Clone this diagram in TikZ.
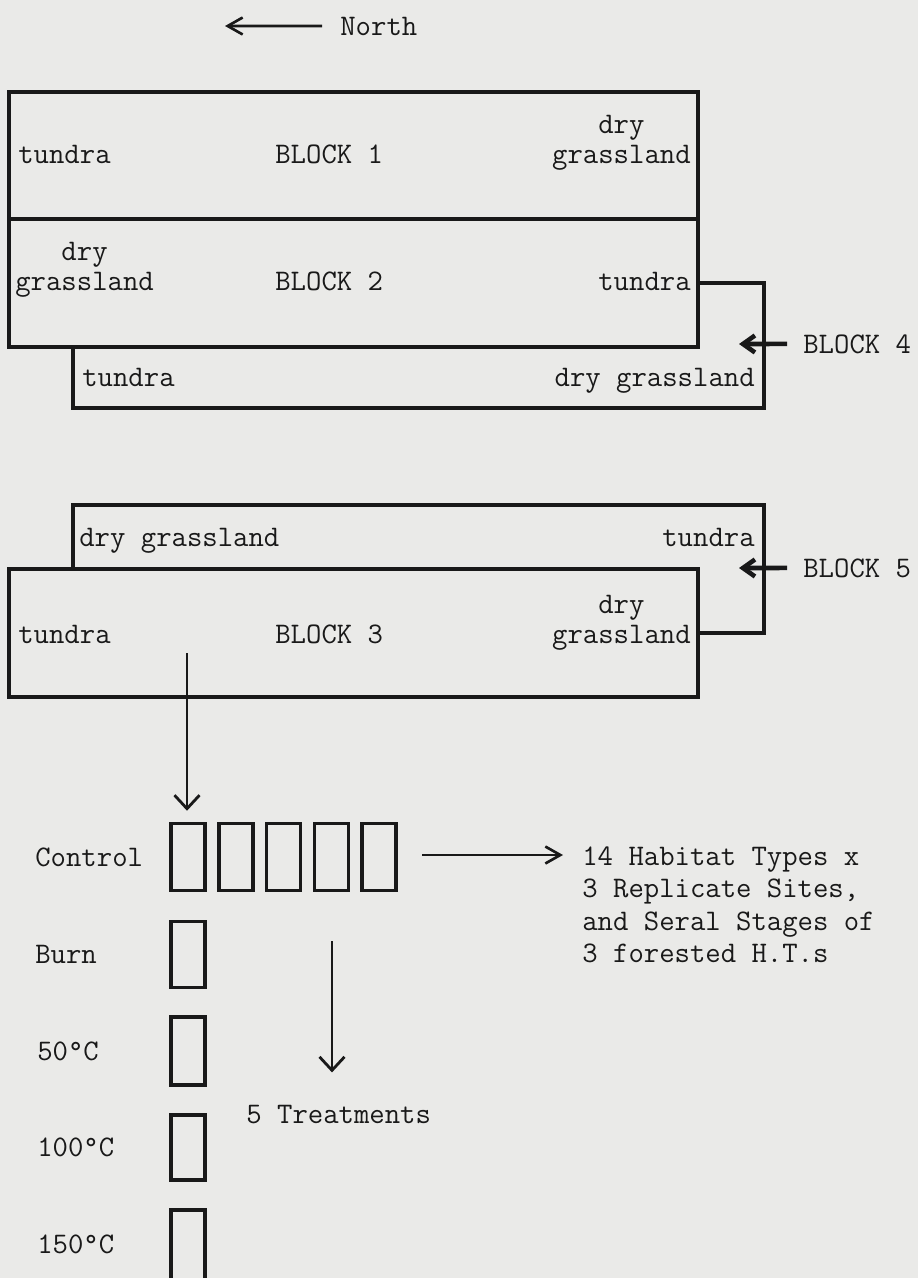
\documentclass[tikz,border=0pt]{standalone}
\usetikzlibrary{arrows.meta, positioning}
\definecolor{paper}{RGB}{234,234,232}
\definecolor{ink}{RGB}{25,25,25}

\begin{document}
\begin{tikzpicture}[
    x=0.02cm, y=-0.02cm,
    lbl/.style={font=\fontsize{17}{18.5}\selectfont\ttfamily, inner sep=0pt, text=ink},
    field/.style={draw=ink, line width=2.1pt},
    plotbox/.style={rectangle, draw=ink, line width=2pt, minimum width=0.68cm, inner sep=0pt},
    arrow/.style={-{Straight Barb[length=0.3cm, width=0.34cm]}, draw=ink, line width=1.5pt},
    downarrow/.style={-{Straight Barb[length=0.27cm, width=0.5cm]}, draw=ink, line width=1.6pt},
    pointer/.style={-{Straight Barb[length=0.24cm, width=0.34cm]}, draw=ink, line width=2.6pt}
]
\fill[paper] (0,0) rectangle (918,1278);
\useasboundingbox (0,0) rectangle (918,1278);

% orientation
\node[lbl, anchor=base west] (north) at (340,35) {North};
\coordinate (northtip) at (225,26);
\draw[arrow, shorten <=0.36cm] (north) -- (northtip);

% blocks 1, 2 and 4
\draw[field] (9,92) rectangle (698,219);
\draw[field] (9,219) rectangle (698,347);
\draw[field] (698,283) -- (764,283) -- (764,408) -- (73,408) -- (73,347);

\node[lbl, anchor=base west] (t1) at (18,163) {tundra};
\node[lbl, anchor=base west] (blk1) at (275,163) {BLOCK 1};
\node[lbl, anchor=base east] (g1) at (691,163) {grassland};
\node[lbl, above=0.6cm of g1.base, anchor=base] (d1) {dry};

\node[lbl, anchor=base west] (g2) at (15,290) {grassland};
\node[lbl, above=0.6cm of g2.base, anchor=base] (d2) {dry};
\node[lbl, anchor=base west] (blk2) at (275,290) {BLOCK 2};
\node[lbl, anchor=base east] (t2) at (691,290) {tundra};

\node[lbl, anchor=base west] (t4) at (82,386) {tundra};
\node[lbl, anchor=base east] (g4) at (755,386) {dry grassland};

\node[lbl, anchor=base west] (blk4) at (803,353) {BLOCK 4};
\coordinate (b4tip) at (739,344);
\draw[pointer, shorten <=0.32cm] (blk4) -- (b4tip);

% blocks 5 and 3
\draw[field] (73,569) -- (73,505) -- (764,505) -- (764,633) -- (698,633);
\draw[field] (9,569) rectangle (698,697);

\node[lbl, anchor=base west] (g5) at (79,546) {dry grassland};
\node[lbl, anchor=base east] (t5) at (755,546) {tundra};

\node[lbl, anchor=base west] (blk5) at (803,577) {BLOCK 5};
\coordinate (b5tip) at (739,568);
\draw[pointer, shorten <=0.32cm] (blk5) -- (b5tip);

\node[lbl, anchor=base west] (t3) at (18,643) {tundra};
\node[lbl, anchor=base west] (blk3) at (275,643) {BLOCK 3};
\node[lbl, anchor=base east] (g3) at (691,643) {grassland};
\node[lbl, above=0.6cm of g3.base, anchor=base] (d3) {dry};

% plots
\coordinate (split) at (187,653);
\foreach \i in {1,...,5}
  \node[plotbox, minimum height=1.34cm] (c\i) at ({188+47.8*(\i-1)},857) {};
\draw[downarrow, shorten >=0.22cm] (split) -- (split |- c1.north);

\node[plotbox, minimum height=1.32cm] (burn) at (188,954.5) {};
\node[plotbox, minimum height=1.36cm] (p50) at (188,1051) {};
\node[plotbox, minimum height=1.3cm] (p100) at (188,1147.5) {};
\node[plotbox, minimum height=1.44cm] (p150) at (188,1246) {};

\node[lbl, anchor=base west] (lcontrol) at (35,866) {Control};
\node[lbl, anchor=base west] (lburn) at (35,963) {Burn};
\node[lbl, anchor=base west] (l50) at (37,1060) {50°C};
\node[lbl, anchor=base west] (l100) at (37,1156) {100°C};
\node[lbl, anchor=base west] (l150) at (37,1253) {150°C};

\node[lbl, anchor=north west, align=left] (habitat) at (582,846)
  {14 Habitat Types x\\3 Replicate Sites,\\and Seral Stages of\\3 forested H.T.s};
\coordinate (ctrlout) at (422,855);
\draw[arrow, shorten >=0.38cm] (ctrlout) -- (ctrlout -| habitat.west);

\node[lbl, anchor=base west] (treat) at (246,1123) {5 Treatments};
\coordinate (treattail) at (332,941);
\draw[downarrow, shorten >=0.64cm] (treattail) -- (treattail |- treat.north);

\end{tikzpicture}
\end{document}
